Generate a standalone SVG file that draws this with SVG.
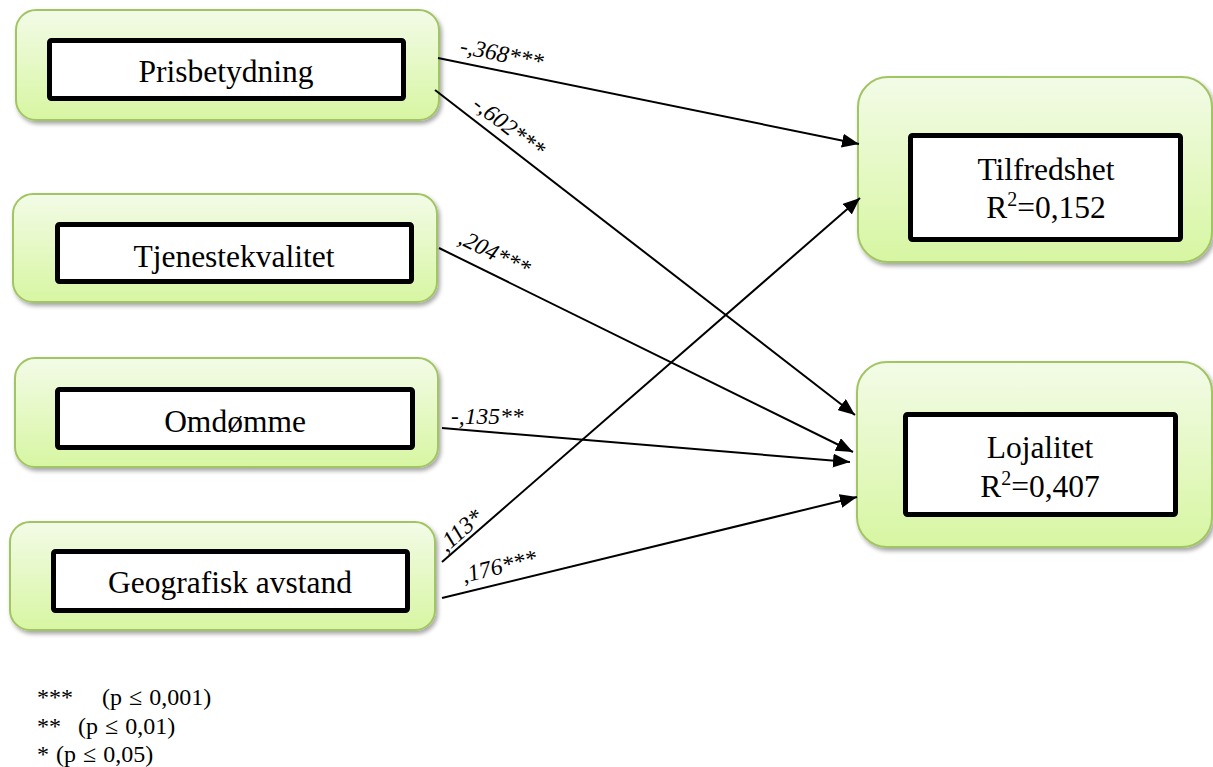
<svg xmlns="http://www.w3.org/2000/svg" width="1213" height="767" viewBox="0 0 1213 767">
<style>
.outer{fill:url(#g);stroke:#a2c563;stroke-width:2;filter:url(#sh)}
.inner{fill:#fff;stroke:#000;stroke-width:5}
.t{font-family:"Liberation Serif","Times New Roman",serif;font-size:31.5px;fill:#000;text-anchor:middle}
.lab{font-family:"Liberation Serif","Times New Roman",serif;font-size:23.5px;font-style:italic;fill:#000}
.leg{font-family:"Liberation Serif","Times New Roman",serif;font-size:24px;word-spacing:1px;fill:#000}
.c{stroke:#000;stroke-width:2;fill:none;marker-end:url(#ah)}
</style>
<defs>
<linearGradient id="g" x1="0" y1="0" x2="0" y2="1">
<stop offset="0" stop-color="#f3fbe7"/>
<stop offset="1" stop-color="#d7f6a2"/>
</linearGradient>
<filter id="sh" x="-5%" y="-5%" width="115%" height="125%">
<feDropShadow dx="2" dy="3" stdDeviation="2" flood-color="#000" flood-opacity="0.35"/>
</filter>
<marker id="ah" markerUnits="userSpaceOnUse" markerWidth="17" markerHeight="14" refX="17" refY="7" orient="auto">
<path d="M0,0 L17,7 L0,14 z" fill="#000"/>
</marker>
</defs>
<rect width="1213" height="767" fill="#fff"/>
<g id="prisbetydning">
<rect class="outer" x="16" y="10" width="423" height="110" rx="20"/>
<rect class="inner" x="49.5" y="40.5" width="354" height="58" rx="2"/>
<text class="t" x="226" y="82">Prisbetydning</text>
</g>
<g id="tjenestekvalitet">
<rect class="outer" x="13" y="194" width="424" height="108" rx="20"/>
<rect class="inner" x="57.5" y="224.5" width="354" height="57" rx="2"/>
<text class="t" x="234" y="267">Tjenestekvalitet</text>
</g>
<g id="omdomme">
<rect class="outer" x="15" y="358" width="423" height="109" rx="20"/>
<rect class="inner" x="57.5" y="389.5" width="355" height="58" rx="2"/>
<text class="t" x="235" y="432">Omdømme</text>
</g>
<g id="geografisk">
<rect class="outer" x="10" y="522" width="425" height="108" rx="20"/>
<rect class="inner" x="53.5" y="551.5" width="354" height="59" rx="2"/>
<text class="t" x="230" y="593">Geografisk avstand</text>
</g>
<g id="tilfredshet">
<rect class="outer" x="858" y="77" width="354" height="185" rx="30"/>
<rect class="inner" x="910.5" y="135.5" width="270" height="104" rx="2"/>
<text class="t" x="1046" y="180">Tilfredshet</text>
<text class="t" x="1046" y="218">R<tspan font-size="20" dy="-12">2</tspan><tspan dy="12">=0,152</tspan></text>
</g>
<g id="lojalitet">
<rect class="outer" x="857" y="362" width="355" height="185" rx="30"/>
<rect class="inner" x="905.5" y="414.5" width="270" height="100" rx="2"/>
<text class="t" x="1040" y="458">Lojalitet</text>
<text class="t" x="1040" y="497">R<tspan font-size="20" dy="-12">2</tspan><tspan dy="12">=0,407</tspan></text>
</g>
<g id="connectors">
<line class="c" x1="438" y1="58" x2="859" y2="144"/>
<line class="c" x1="435" y1="90" x2="855" y2="415"/>
<line class="c" x1="439" y1="248" x2="853" y2="452"/>
<line class="c" x1="442" y1="428" x2="850" y2="462"/>
<line class="c" x1="442" y1="562" x2="860" y2="198"/>
<line class="c" x1="442" y1="598" x2="857" y2="497"/>
<text class="lab" transform="translate(459,53) rotate(11.5)">-,368***</text>
<text class="lab" transform="translate(471,107) rotate(37.7)">-,602***</text>
<text class="lab" transform="translate(457,243) rotate(26.2)">,204***</text>
<text class="lab" transform="translate(451,424)">-,135**</text>
<text class="lab" transform="translate(446,553) rotate(-41)">,113*</text>
<text class="lab" transform="translate(464,583) rotate(-13.7)">,176***</text>
</g>
<g id="legend">
<text class="leg" x="37" y="705">***</text>
<text class="leg" x="102" y="705">(p ≤ 0,001)</text>
<text class="leg" x="37" y="734">**</text>
<text class="leg" x="78" y="734">(p ≤ 0,01)</text>
<text class="leg" x="37" y="762">* (p ≤ 0,05)</text>
</g>
</svg>
